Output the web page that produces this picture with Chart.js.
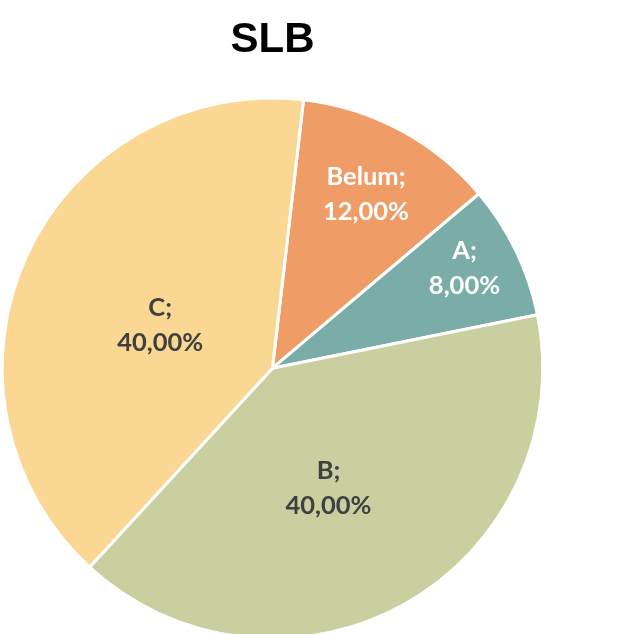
<!DOCTYPE html>
<html>
<head>
<meta charset="utf-8">
<script src="https://cdn.jsdelivr.net/npm/chart.js@4.4.1/dist/chart.umd.min.js"></script>
<style>
  html, body { margin: 0; padding: 0; background: #ffffff; overflow: hidden; }
  #wrap { position: absolute; left: 0; top: 0; width: 626px; height: 660px; }
</style>
</head>
<body>
<div id="wrap"><canvas id="c"></canvas></div>
<script>
const title = 'SLB';
const categories = ['Belum', 'A', 'B', 'C'];
const values = [12, 8, 40, 40];
const colors = ['#EF9C67', '#7AACA8', '#C9CF9F', '#FAD793'];
const labelColors = ['#FFFFFF', '#FFFFFF', '#404040', '#404040'];

const labelPlacement = {
  radius: [0.732, 0.80, 0.49, 0.445],
  angleShift: [0, -1.6, 4.4, -3.6]
};

const sliceLabels = {
  id: 'sliceLabels',
  afterDatasetsDraw(chart) {
    const ctx = chart.ctx;
    const meta = chart.getDatasetMeta(0);
    const data = chart.data.datasets[0].data;
    const total = data.reduce((a, b) => a + b, 0);
    ctx.save();
    ctx.font = 'bold 25.5px Lato, "Open Sans", sans-serif';
    ctx.textAlign = 'center';
    ctx.textBaseline = 'middle';
    meta.data.forEach((arc, i) => {
      const p = arc.getProps(['x', 'y', 'startAngle', 'endAngle', 'outerRadius'], true);
      const mid = (p.startAngle + p.endAngle) / 2 + labelPlacement.angleShift[i] * Math.PI / 180;
      const r = p.outerRadius * labelPlacement.radius[i];
      const cx = p.x + Math.cos(mid) * r;
      const cy = p.y + Math.sin(mid) * r;
      const pct = (data[i] / total * 100).toFixed(2).replace('.', ',') + '%';
      ctx.fillStyle = labelColors[i];
      ctx.fillText(chart.data.labels[i] + ';', cx, cy - 17.5);
      ctx.fillText(pct, cx, cy + 17.5);
    });
    ctx.restore();
  }
};

new Chart(document.getElementById('c'), {
  type: 'pie',
  data: {
    labels: categories,
    datasets: [{
      data: values,
      backgroundColor: colors,
      borderColor: '#FFFFFF',
      borderWidth: 3
    }]
  },
  options: {
    responsive: true,
    maintainAspectRatio: false,
    animation: false,
    rotation: 6.6,
    layout: { padding: { left: 0, right: 81, top: 0, bottom: 20 } },
    plugins: {
      legend: { display: false },
      tooltip: { enabled: false },
      title: {
        display: true,
        text: title,
        color: '#000000',
        font: { family: '"Liberation Sans", Arial, sans-serif', size: 42, weight: 'bold', lineHeight: 1.2 },
        padding: { top: 15, bottom: 31 }
      }
    }
  },
  plugins: [sliceLabels]
});
</script>
</body>
</html>
